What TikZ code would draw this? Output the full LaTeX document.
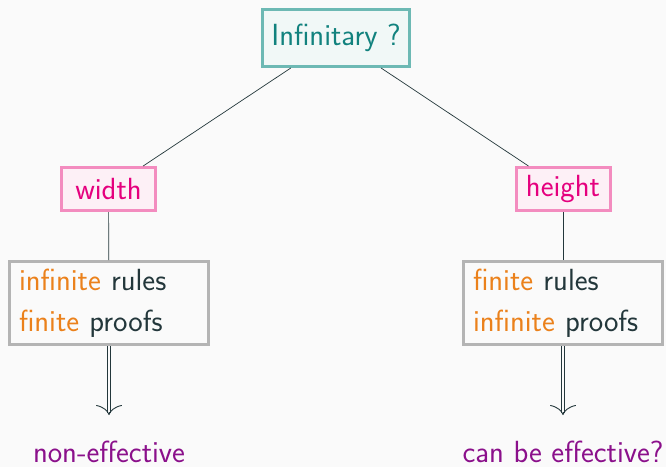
\documentclass[tikz,border=0pt]{standalone}
\usepackage{tikz}
\usetikzlibrary{arrows.meta,calc}
\renewcommand{\familydefault}{\sfdefault}
\definecolor{bgcol}{HTML}{FAFAFA}
\definecolor{darktxt}{HTML}{23373B}
\definecolor{hiorange}{HTML}{EB811B}
\definecolor{tealtxt}{HTML}{12827E}
\definecolor{tealline}{HTML}{6DB9B4}
\definecolor{tealfill}{HTML}{F1F8F7}
\definecolor{pinktxt}{HTML}{E5007E}
\definecolor{pinkline}{HTML}{F38CBF}
\definecolor{pinkfill}{HTML}{FDF0F6}
\definecolor{purpletxt}{HTML}{8B108B}
\definecolor{grayline}{HTML}{B4B4B4}
\tikzset{
  x=1pt, y=-1pt,
  every node/.style={font=\fontsize{30.6}{41.5}\selectfont},
  rootbox/.style={draw=tealline, fill=tealfill, line width=3pt, text=tealtxt,
    minimum width=147pt, minimum height=57pt, inner sep=0pt},
  kindbox/.style={draw=pinkline, fill=pinkfill, line width=3pt, text=pinktxt,
    minimum width=94pt, minimum height=43pt, inner sep=0pt},
  infobox/.style={draw=grayline, fill=bgcol, line width=3pt, text=darktxt,
    minimum width=199pt, minimum height=83pt, align=left, inner sep=0pt,
    text width=180pt},
  outcome/.style={text=purpletxt, inner sep=0pt, anchor=base},
  edge/.style={draw=darktxt, line width=0.7pt},
  implies/.style={draw=darktxt, double=bgcol, double distance=2.6pt,
    line width=0.8pt},
  impliestip/.style={draw=darktxt, line width=0.9pt,
    -{To[length=10pt, width=26pt]}},
}
\newcommand{\hl}[1]{\textcolor{hiorange}{#1}}
\begin{document}
\begin{tikzpicture}
  \fill[bgcol] (0,0) rectangle (666,467);
  \useasboundingbox (0,0) rectangle (666,467);

  \node[rootbox] (root) at (336,38) {Infinitary ?};
  \node[kindbox] (width) at (108.5,189) {width};
  \node[kindbox] (height) at (563,189) {height};

  \node[infobox] (wbox) at (109,303) {\hl{infinite} rules\\\hl{finite} proofs};
  \node[infobox] (hbox) at (563,303) {\hl{finite} rules\\\hl{infinite} proofs};

  \coordinate (wend) at (109,415);
  \coordinate (hend) at (563,415);
  \node[outcome] (wout) at (109,462) {non-effective};
  \node[outcome] (hout) at (563,462) {can be effective?};

  \draw[edge] (root) -- (width);
  \draw[edge] (root) -- (height);
  \draw[edge] (width) -- (wbox);
  \draw[edge] (height) -- (hbox);

  % double shaft with an open curved head
  \draw[implies] (wbox.south) -- ($(wend)+(0,-2)$);
  \draw[impliestip] ($(wend)+(0,-3)$) -- (wend);
  \draw[implies] (hbox.south) -- ($(hend)+(0,-2)$);
  \draw[impliestip] ($(hend)+(0,-3)$) -- (hend);
\end{tikzpicture}
\end{document}
